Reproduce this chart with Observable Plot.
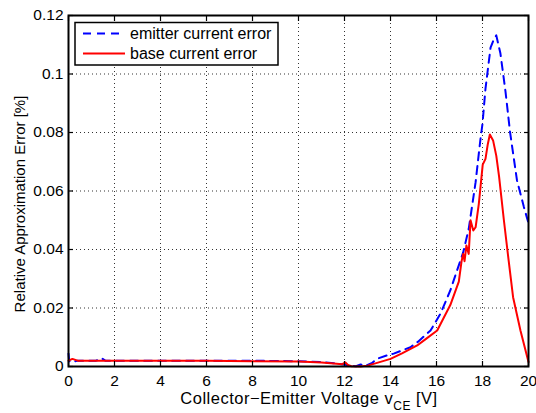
<!DOCTYPE html>
<html>
<head>
<meta charset="utf-8">
<script src="https://cdn.jsdelivr.net/npm/d3@7"></script>
<script src="https://cdn.jsdelivr.net/npm/@observablehq/plot@0.6"></script>
<style>
  html, body { margin: 0; padding: 0; background: #fff; }
  svg { display: block; }
</style>
</head>
<body>
<div id="chart"></div>
<script>
const xTicks = [0, 2, 4, 6, 8, 10, 12, 14, 16, 18, 20];
const yTicks = [0, 0.02, 0.04, 0.06, 0.08, 0.1, 0.12];
const yTickLabels = ["0", "0.02", "0.04", "0.06", "0.08", "0.1", "0.12"];
const seriesNames = ["emitter current error", "base current error"];

const emitterV = [0, 0.03, 0.17, 0.4, 1.2, 1.35, 1.45, 1.6, 3, 5, 7, 9, 10, 11, 11.6, 12.1, 12.5, 12.7, 12.9, 13.2, 13.4, 13.85, 14.14, 14.87, 15.2, 15.74, 16.17, 16.6, 16.9, 17.16, 17.4, 17.7, 17.9, 18.0, 18.13, 18.35, 18.5, 18.6, 18.78, 19.0, 19.2, 19.5, 19.8, 20];
const emitterErr = [0.0044, 0.0018, 0.0015, 0.002, 0.002, 0.0025, 0.0028, 0.002, 0.002, 0.002, 0.002, 0.0019, 0.0018, 0.0015, 0.0011, 0.0005, 0.0001, 0.0007, 0.0002, 0.0012, 0.0026, 0.0038, 0.0044, 0.0066, 0.0085, 0.0123, 0.018, 0.026, 0.033, 0.039, 0.047, 0.063, 0.077, 0.083, 0.095, 0.109, 0.112, 0.1132, 0.107, 0.094, 0.080, 0.0636, 0.0545, 0.049];

const baseV = [0, 0.17, 0.4, 2, 4, 6, 8, 10, 11, 11.4, 11.9, 12.04, 12.15, 12.3, 12.7, 13.0, 13.27, 14, 14.5, 15.16, 15.5, 16.03, 16.6, 16.97, 17.09, 17.16, 17.22, 17.3, 17.4, 17.48, 17.6, 17.7, 17.84, 18.01, 18.13, 18.23, 18.32, 18.46, 18.6, 18.72, 18.93, 19.14, 19.33, 19.65, 20];
const baseErr = [0.002, 0.0026, 0.002, 0.002, 0.002, 0.002, 0.0018, 0.0017, 0.0014, 0.0011, 0.0008, 0.0014, 0.0005, 0.0001, 0, 0.0003, 0.0009, 0.0026, 0.0045, 0.0072, 0.0092, 0.0123, 0.021, 0.029, 0.036, 0.0385, 0.036, 0.0414, 0.0385, 0.050, 0.0465, 0.0476, 0.0556, 0.069, 0.071, 0.076, 0.0793, 0.0773, 0.072, 0.065, 0.050, 0.036, 0.0237, 0.0123, 0.0015];

const emitter = emitterV.map((v, i) => ({v, e: emitterErr[i]}));
const base = baseV.map((v, i) => ({v, e: baseErr[i]}));

const fontFamily = '"Liberation Sans", Arial, Helvetica, sans-serif';
const yFmt = d => yTickLabels[yTicks.indexOf(d)];

const plot = Plot.plot({
  width: 536,
  height: 413,
  marginLeft: 68,
  marginRight: 8,
  marginTop: 15,
  marginBottom: 47,
  style: {fontFamily, fontSize: "15.5px", color: "#000", background: "#fff"},
  x: {domain: [0, 20], label: null},
  y: {domain: [0, 0.12], label: null},
  marks: [
    Plot.gridX(xTicks.slice(1, -1), {stroke: "#000", strokeOpacity: 0.8, strokeDasharray: "1,3", strokeWidth: 1}),
    Plot.gridY(yTicks.slice(1, -1), {stroke: "#000", strokeOpacity: 0.8, strokeDasharray: "1,3", strokeWidth: 1}),
    Plot.line(emitter, {x: "v", y: "e", stroke: "#0000ff", strokeWidth: 2, strokeDasharray: "8,6"}),
    Plot.line(base, {x: "v", y: "e", stroke: "#ff0000", strokeWidth: 2}),
    Plot.axisX(xTicks, {anchor: "bottom", tickSize: -5, tickPadding: 13, fontSize: 15.5, strokeWidth: 1.2}),
    Plot.axisX(xTicks, {anchor: "top", tickSize: -5, tickFormat: () => "", strokeWidth: 1.2}),
    Plot.axisY(yTicks, {anchor: "left", tickSize: -5, tickPadding: 10, tickFormat: yFmt, fontSize: 15.5, strokeWidth: 1.2}),
    Plot.axisY(yTicks, {anchor: "right", tickSize: -5, tickFormat: () => "", strokeWidth: 1.2}),
    Plot.frame({stroke: "#000", strokeWidth: 2})
  ]
});

document.getElementById("chart").appendChild(plot);

const svg = d3.select(plot);

// x-axis label with subscript
const xl = svg.append("text")
  .attr("x", 309).attr("y", 403.5)
  .attr("text-anchor", "middle")
  .attr("font-family", fontFamily)
  .attr("font-size", 16.5)
  .attr("letter-spacing", 0.5)
  .attr("fill", "#000");
xl.append("tspan").text("Collector\u2212Emitter Voltage v");
xl.append("tspan").attr("dy", 6).attr("font-size", 12).text("CE");
xl.append("tspan").attr("dy", -6).text(" [V]");

// y-axis label
svg.append("text")
  .attr("transform", "translate(25,204) rotate(-90)")
  .attr("text-anchor", "middle")
  .attr("font-family", fontFamily)
  .attr("font-size", 15)
  .attr("fill", "#000")
  .text("Relative Approximation Error [%]");

// legend
const lg = svg.append("g").attr("text-anchor", "start");
lg.append("rect").attr("x", 75).attr("y", 22.5).attr("width", 203).attr("height", 42.5)
  .attr("fill", "#fff").attr("stroke", "#000").attr("stroke-width", 1.5);
const legendItems = [
  {name: seriesNames[0], color: "#0000ff", dash: "8,6", y: 33.5},
  {name: seriesNames[1], color: "#ff0000", dash: null, y: 53.5}
];
legendItems.forEach(it => {
  const ln = lg.append("line").attr("x1", 83).attr("x2", 125).attr("y1", it.y).attr("y2", it.y)
    .attr("stroke", it.color).attr("stroke-width", 2).attr("fill", "none");
  if (it.dash) ln.attr("stroke-dasharray", it.dash);
  lg.append("text").attr("x", 130).attr("y", it.y + 5.5)
    .attr("text-anchor", "start")
    .attr("font-family", fontFamily).attr("font-size", 16).attr("fill", "#000")
    .text(it.name);
});
</script>
</body>
</html>
